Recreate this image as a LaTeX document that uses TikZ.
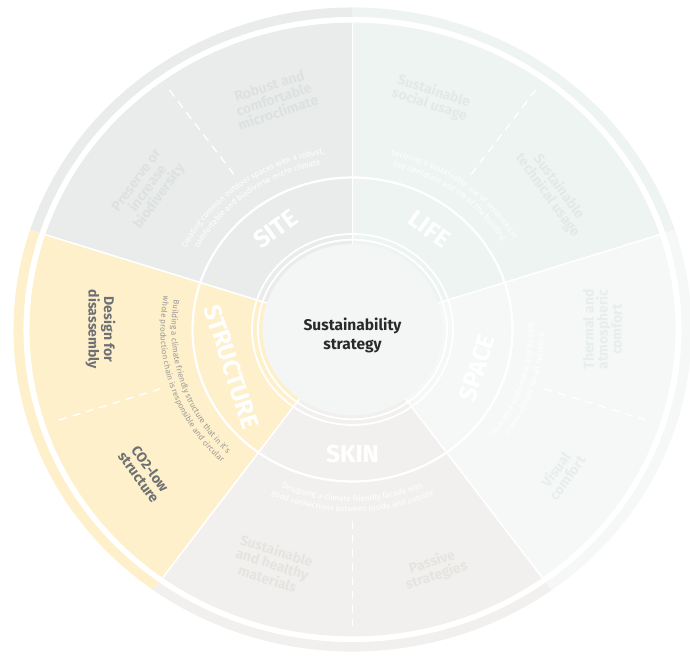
\documentclass[tikz,border=0pt]{standalone}
\usepackage{fontspec}
\setmainfont{Fira Sans}
\usepackage{tikz}
\usetikzlibrary{decorations.text}

\definecolor{sitefill}{HTML}{E9ECEB}
\definecolor{lifefill}{HTML}{EEF4F1}
\definecolor{spacefill}{HTML}{F5F8F7}
\definecolor{skinfill}{HTML}{F1F0EE}
\definecolor{structfill}{HTML}{FDF0CB}
\definecolor{corefill}{HTML}{F4F6F6}
\definecolor{sitetext}{HTML}{DDE1E0}
\definecolor{lifetext}{HTML}{E2EAE6}
\definecolor{spacetext}{HTML}{E8EEEC}
\definecolor{skintext}{HTML}{E5E4E1}
\definecolor{structtext}{HTML}{6E7073}
\definecolor{structdesc}{HTML}{9C9A96}
\definecolor{coretext}{HTML}{2A2A2A}

\tikzset{
    labelnode/.style={text=white, font=\fontsize{24.5}{24.5}\selectfont\bfseries, inner sep=0pt},
    topicnode/.style={font=\fontsize{14}{14}\selectfont\bfseries, align=center, inner sep=0pt},
    corenode/.style={font=\fontsize{15.5}{19}\selectfont\bfseries, text=coretext, align=center, inner sep=0pt},
    divline/.style={draw=white, line width=1.6pt},
    dashline/.style={draw=white, line width=1.4pt, dash pattern=on 8pt off 6pt},
    ringline/.style={draw=white, line width=1.8pt},
    desctext/.style={decorate, decoration={text along path, text align=center, text={#1}}}
}

\begin{document}
\begin{tikzpicture}[x=1pt, y=0.95pt]
\useasboundingbox (-352.5pt,-326.5pt) rectangle (337.5pt,329.5pt);

% the five sectors
\fill[sitefill] (0,0) -- (90:323) arc[start angle=90, end angle=162, radius=323] -- cycle;
\fill[structfill] (0,0) -- (162:323) arc[start angle=162, end angle=234, radius=323] -- cycle;
\fill[skinfill] (0,0) -- (234:323) arc[start angle=234, end angle=306, radius=323] -- cycle;
\fill[spacefill] (0,0) -- (306:323) arc[start angle=306, end angle=378, radius=323] -- cycle;
\fill[lifefill] (0,0) -- (18:323) arc[start angle=18, end angle=90, radius=323] -- cycle;

% outer band
\fill[sitefill] (90:329) arc[start angle=90, end angle=162, radius=329] -- (162:339) arc[start angle=162, end angle=90, radius=339] -- cycle;
\fill[structfill] (162:329) arc[start angle=162, end angle=234, radius=329] -- (234:339) arc[start angle=234, end angle=162, radius=339] -- cycle;
\fill[skinfill] (234:329) arc[start angle=234, end angle=306, radius=329] -- (306:339) arc[start angle=306, end angle=234, radius=339] -- cycle;
\fill[spacefill] (306:329) arc[start angle=306, end angle=378, radius=329] -- (378:339) arc[start angle=378, end angle=306, radius=339] -- cycle;
\fill[lifefill] (18:329) arc[start angle=18, end angle=90, radius=329] -- (90:339) arc[start angle=90, end angle=18, radius=339] -- cycle;

% borders between sectors
\draw[divline] (90:90) -- (90:323);
\draw[divline] (162:90) -- (162:323);
\draw[divline] (234:90) -- (234:323);
\draw[divline] (306:90) -- (306:323);
\draw[divline] (18:90) -- (18:323);

% split of each sector into its two topics
\draw[dashline] (126:202) -- (126:312);
\draw[dashline] (198:202) -- (198:312);
\draw[dashline] (270:202) -- (270:312);
\draw[dashline] (342:202) -- (342:312);
\draw[dashline] (54:202) -- (54:312);

% core and rings
\fill[corefill] (0,0) circle[radius=90];
\draw[ringline] (0,0) circle[radius=94.5];
\draw[ringline] (0,0) circle[radius=100.5];
\draw[ringline, line width=2.2pt] (0,0) circle[radius=160];

\node[corenode] (core) at (0,-6) {Sustainability\\strategy};

% ring labels
\node[labelnode, rotate=36] (site) at (126:131) {SITE};
\node[labelnode, rotate=-36] (life) at (54:131) {LIFE};
\node[labelnode, rotate=72] (space) at (342:131) {SPACE};
\node[labelnode] (skin) at (270:131) {SKIN};
\node[labelnode, rotate=-72] (structure) at (198:127) {STRUCTURE};

% descriptions along the ring
\path[desctext={|\fontsize{8}{9}\selectfont\color{white}|Creating common outdoor spaces with a robust,}]
    (162:187) arc[start angle=162, end angle=90, radius=187];
\path[desctext={|\fontsize{8}{9}\selectfont\color{white}|comfortable and biodiverse micro climate}]
    (162:176) arc[start angle=162, end angle=90, radius=176];
\path[desctext={|\fontsize{8}{9}\selectfont\color{white}|Securing a sustainable use of resources in}]
    (90:187) arc[start angle=90, end angle=18, radius=187];
\path[desctext={|\fontsize{8}{9}\selectfont\color{white}|the operation and life of the building}]
    (90:176) arc[start angle=90, end angle=18, radius=176];
\path[desctext={|\fontsize{8}{9}\selectfont\color{white}|Creating a sustainable and healthy}]
    (306:181) arc[start angle=306, end angle=378, radius=181];
\path[desctext={|\fontsize{8}{9}\selectfont\color{white}|indoor climate for all residents}]
    (306:192) arc[start angle=306, end angle=378, radius=192];
\path[desctext={|\fontsize{8}{9}\selectfont\color{white}|Designing a climate friendly facade with}]
    (234:181) arc[start angle=234, end angle=306, radius=181];
\path[desctext={|\fontsize{8}{9}\selectfont\color{white}|good connections between inside and outside}]
    (234:192) arc[start angle=234, end angle=306, radius=192];
\path[desctext={|\fontsize{8}{9}\selectfont\color{structdesc}|Building a climate friendly structure that in it's}]
    (162:181) arc[start angle=162, end angle=234, radius=181];
\path[desctext={|\fontsize{8}{9}\selectfont\color{structdesc}|whole production chain is responsible and circular}]
    (162:192) arc[start angle=162, end angle=234, radius=192];

% topics
\node[topicnode, text=sitetext, rotate=18] (site-a) at (108:255) {Robust and\\comfortable\\microclimate};
\node[topicnode, text=sitetext, rotate=54] (site-b) at (144:252) {Preserve or\\increase\\biodiversity};
\node[topicnode, text=lifetext, rotate=-18] (life-a) at (72:256) {Sustainable\\social usage};
\node[topicnode, text=lifetext, rotate=-54] (life-b) at (36:248) {Sustainable\\technical usage};
\node[topicnode, text=spacetext, rotate=90] (space-a) at (0:250) {Thermal and\\atmospheric\\comfort};
\node[topicnode, text=spacetext, rotate=54] (space-b) at (324:258) {Visual\\comfort};
\node[topicnode, text=skintext, rotate=-18] (skin-a) at (252:260) {Sustainable\\and healthy\\materials};
\node[topicnode, text=skintext, rotate=18] (skin-b) at (288:265) {Passive\\strategies};
\node[topicnode, text=structtext, rotate=-90] (structure-a) at (180:252) {Design for\\disassembly};
\node[topicnode, text=structtext, rotate=-54] (structure-b) at (216:257) {CO2-low\\structure};
\end{tikzpicture}
\end{document}
